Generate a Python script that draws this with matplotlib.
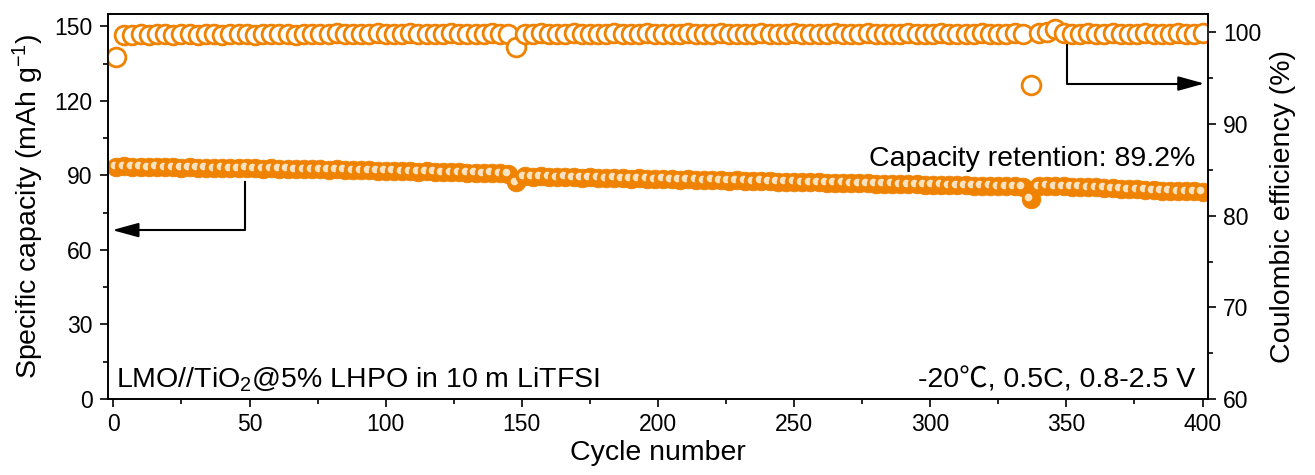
import numpy as np
import matplotlib
matplotlib.use("Agg")
import matplotlib.pyplot as plt
from matplotlib.ticker import MultipleLocator
from matplotlib.transforms import offset_copy

plt.rcParams['font.family'] = ['Liberation Sans', 'Noto Sans CJK SC', 'DejaVu Sans']
plt.rcParams['mathtext.fontset'] = 'custom'
plt.rcParams['mathtext.rm'] = 'Liberation Sans'
plt.rcParams['mathtext.it'] = 'Liberation Sans:italic'

# every third cycle is plotted
cycles = np.arange(1, 401, 3)

capacity = [
    93.6, 93.8, 93.5, 93.6, 93.4, 93.5, 93.3, 93.4, 93.2, 93.3,
    93.1, 93.2, 93.0, 93.1, 92.9, 93.0, 93.1, 92.9, 92.8, 92.9,
    92.7, 92.8, 92.6, 92.5, 92.6, 92.4, 92.3, 92.4, 92.2, 92.1,
    92.0, 92.1, 91.9, 91.8, 91.9, 91.7, 91.6, 91.5, 91.6, 91.4,
    91.3, 91.2, 91.3, 91.1, 91.0, 90.9, 91.0, 90.8, 90.7, 87.2,
    89.6, 89.5, 89.6, 89.4, 89.3, 89.4, 89.2, 89.1, 89.2, 89.0,
    88.9, 89.0, 88.8, 88.7, 88.8, 88.6, 88.5, 88.6, 88.4, 88.3,
    88.4, 88.2, 88.1, 88.2, 88.0, 87.9, 88.0, 87.8, 87.7, 87.8,
    87.6, 87.5, 87.4, 87.5, 87.3, 87.2, 87.3, 87.1, 87.0, 87.1,
    86.9, 86.8, 86.9, 86.7, 86.6, 86.7, 86.5, 86.4, 86.5, 86.3,
    86.2, 86.3, 86.1, 86.0, 86.1, 85.9, 85.8, 85.9, 85.7, 85.6,
    85.7, 85.5, 80.6, 85.6, 85.8, 85.7, 85.6, 85.4, 85.5, 85.3,
    85.2, 85.0, 84.8, 84.7, 84.5, 84.4, 84.2, 84.0, 83.9, 83.8,
    83.7, 83.6, 83.6, 83.5,
]

efficiency = [
    97.3, 99.7, 99.7, 99.8, 99.7, 99.8, 99.8, 99.7, 99.8, 99.8,
    99.7, 99.8, 99.8, 99.7, 99.8, 99.8, 99.8, 99.7, 99.8, 99.8,
    99.8, 99.8, 99.7, 99.8, 99.8, 99.8, 99.8, 99.9, 99.8, 99.8,
    99.8, 99.8, 99.9, 99.8, 99.8, 99.8, 99.9, 99.8, 99.8, 99.8,
    99.8, 99.9, 99.8, 99.8, 99.8, 99.8, 99.9, 99.8, 99.8, 98.4,
    99.8, 99.8, 99.9, 99.8, 99.8, 99.8, 99.9, 99.8, 99.8, 99.8,
    99.8, 99.9, 99.8, 99.8, 99.8, 99.9, 99.8, 99.8, 99.8, 99.8,
    99.9, 99.8, 99.8, 99.8, 99.9, 99.8, 99.8, 99.8, 99.8, 99.9,
    99.8, 99.8, 99.8, 99.9, 99.8, 99.8, 99.8, 99.8, 99.9, 99.8,
    99.8, 99.8, 99.9, 99.8, 99.8, 99.8, 99.8, 99.9, 99.8, 99.8,
    99.8, 99.9, 99.8, 99.8, 99.8, 99.8, 99.9, 99.8, 99.8, 99.8,
    99.9, 99.8, 94.3, 99.9, 100.0, 100.4, 99.9, 99.8, 99.8, 99.9,
    99.8, 99.8, 99.9, 99.8, 99.8, 99.8, 99.9, 99.8, 99.8, 99.8,
    99.9, 99.8, 99.8, 99.9,
]

orange = '#EF8200'
light = '#FCE2C0'
fs_tick = 16.5
fs_label = 20.5

fig = plt.figure(figsize=(13.15, 4.75), dpi=100)
ax = fig.add_axes([0.0821, 0.16, 0.8365, 0.8105])
ax2 = ax.twinx()

shine = offset_copy(ax.transData, fig=fig, x=-2.5, y=1.5, units='dots')
for c, q in zip(cycles, capacity):
    ax.plot([c], [q], 'o', ms=13.5, mfc=orange, mec=orange, mew=0.5)
    ax.plot([c], [q], 'o', ms=5.5, mfc=light, mec='none', transform=shine)

ax2.plot(cycles, efficiency, 'o', ms=13.5, mfc='white', mec=orange, mew=2)

ax.set_xlim(-2, 402)
ax.set_ylim(0, 155)
ax2.set_ylim(60, 102)
ax.xaxis.set_major_locator(MultipleLocator(50))
ax.xaxis.set_minor_locator(MultipleLocator(25))
ax.yaxis.set_major_locator(MultipleLocator(30))
ax.yaxis.set_minor_locator(MultipleLocator(15))
ax2.yaxis.set_major_locator(MultipleLocator(10))
ax2.yaxis.set_minor_locator(MultipleLocator(5))

for a in (ax, ax2):
    a.tick_params(which='major', direction='out', length=6, width=1.2, labelsize=fs_tick, pad=5)
    a.tick_params(which='minor', direction='out', length=3.5, width=1.2)
    for s in a.spines.values():
        s.set_linewidth(1.2)
ax.tick_params(axis='x', which='major', pad=4)

ax.set_xlabel('Cycle number', fontsize=fs_label, labelpad=3)
ax.set_ylabel('Specific capacity (mAh g$^{-1}$)', fontsize=fs_label, labelpad=6)
ax2.set_ylabel('Coulombic efficiency (%)', fontsize=fs_label, labelpad=6)

# arrows pointing to the axis of each series
ax.plot([48.2, 48.2, 8], [87.4, 68.0, 68.0], color='k', lw=1.5)
ax.annotate('', xy=(-0.4, 68.0), xytext=(9, 68.0),
            arrowprops=dict(arrowstyle='-|>,head_length=0.8,head_width=0.22',
                            mutation_scale=20, color='k', lw=1.5, shrinkA=0, shrinkB=0))
ax.plot([350.2, 350.2, 392], [142.5, 127.0, 127.0], color='k', lw=1.5)
ax.annotate('', xy=(400.7, 127.0), xytext=(391, 127.0),
            arrowprops=dict(arrowstyle='-|>,head_length=0.8,head_width=0.22',
                            mutation_scale=20, color='k', lw=1.5, shrinkA=0, shrinkB=0))

ax.text(0.988, 0.605, 'Capacity retention: 89.2%', transform=ax.transAxes,
        ha='right', va='baseline', fontsize=fs_label)
ax.text(0.007, 0.03, 'LMO//TiO$_2$@5% LHPO in 10 m LiTFSI', transform=ax.transAxes,
        ha='left', va='baseline', fontsize=fs_label)
ax.text(0.988, 0.03, '-20\u2103, 0.5C, 0.8-2.5 V', transform=ax.transAxes,
        ha='right', va='baseline', fontsize=fs_label)

fig.savefig('out.png', dpi=100)
